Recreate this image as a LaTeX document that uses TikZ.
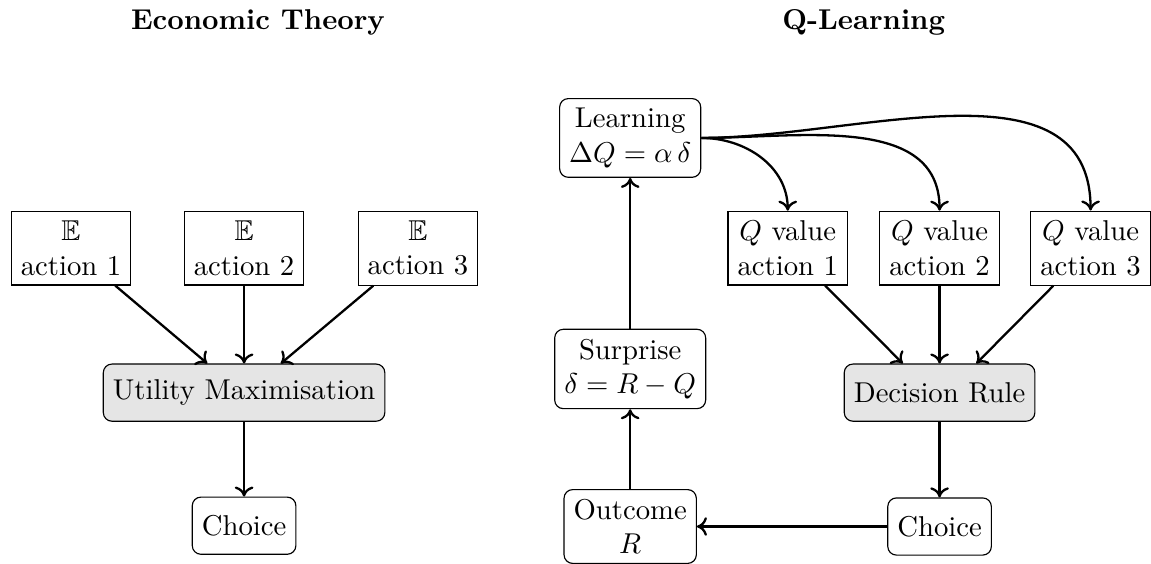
\documentclass[tikz,border=0pt]{standalone}
\usepackage{amssymb}
\usetikzlibrary{arrows.meta}
\begin{document}
\begin{tikzpicture}[
    sqbox/.style={draw,align=center},
    rbox/.style={draw,rounded corners=3pt,align=center,minimum height=0.7cm},
    grbox/.style={rbox,fill=gray!20},
    arr/.style={-{To[length=3.5pt,width=6.5pt]},thick}]
  \useasboundingbox (0,0) rectangle (14.1,6.9);
  % titles
  \node[font=\bfseries] (tEcon) at (3.16,6.63) {Economic Theory};
  \node[font=\bfseries] (tQ) at (10.58,6.63) {Q-Learning};

  % economic theory
  \foreach \i/\x in {1/0.87,2/2.99,3/5.12}{
    \node[sqbox] (e\i) at (\x,3.86) {$\mathbb{E}$\\action \i};
  };
  \node[grbox] (util) at (2.99,2.09) {Utility Maximisation};
  \node[rbox] (chL) at (2.99,0.46) {Choice};
  \foreach \i/\dx in {1/-0.45,2/0,3/0.45}{
    \draw[arr] (e\i) -- ([xshift=\dx cm]util.north);
  };
  \draw[arr] (util) -- (chL);

  % q-learning
  \node[rbox] (learn) at (7.72,5.21) {Learning\\$\Delta Q = \alpha\,\delta$};
  \foreach \i/\x in {1/9.65,2/11.51,3/13.36}{
    \node[sqbox] (q\i) at (\x,3.86) {$Q$ value\\action \i};
  };
  \node[grbox] (dec) at (11.51,2.09) {Decision Rule};
  \node[rbox] (chR) at (11.51,0.45) {Choice};
  \node[rbox] (surp) at (7.72,2.38) {Surprise\\$\delta = R - Q$};
  \node[rbox] (outc) at (7.72,0.45) {Outcome\\$R$};
  \foreach \i/\dx in {1/-0.45,2/0,3/0.45}{
    \draw[arr] (learn.east) to[out=0,in=90] (q\i.north);
    \draw[arr] (q\i) -- ([xshift=\dx cm]dec.north);
  };
  \draw[arr] (dec) -- (chR);
  \draw[arr] (chR) -- (outc);
  \draw[arr] (outc) -- (surp);
  \draw[arr] (surp) -- (learn);
\end{tikzpicture}
\end{document}
